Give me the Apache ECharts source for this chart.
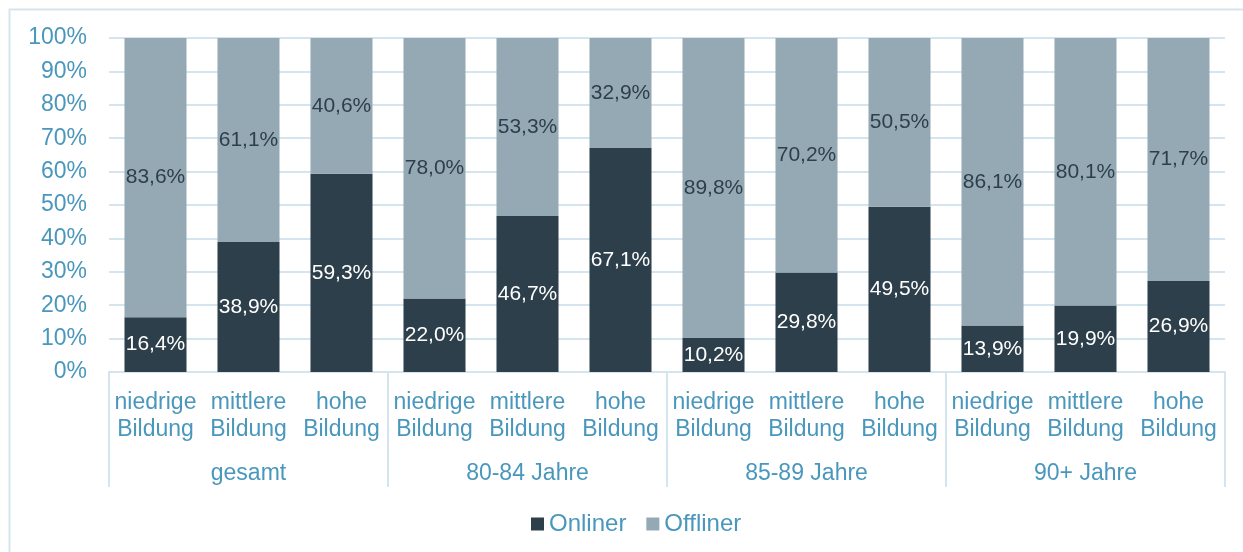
<!DOCTYPE html>
<html><head><meta charset="utf-8">
<script src="https://cdn.jsdelivr.net/npm/echarts@6/dist/echarts.min.js"></script>
<style>html,body{margin:0;padding:0;background:#fff}#c{width:1243px;height:552px}</style>
</head><body><div id="c"></div>
<script>
const categories = ['niedrige\nBildung','mittlere\nBildung','hohe\nBildung','niedrige\nBildung','mittlere\nBildung','hohe\nBildung','niedrige\nBildung','mittlere\nBildung','hohe\nBildung','niedrige\nBildung','mittlere\nBildung','hohe\nBildung'];
const groups = ['gesamt','80-84 Jahre','85-89 Jahre','90+ Jahre'];
const onliner = [16.4,38.9,59.3,22.0,46.7,67.1,10.2,29.8,49.5,13.9,19.9,26.9];
const offliner = [83.6,61.1,40.6,78.0,53.3,32.9,89.8,70.2,50.5,86.1,80.1,71.7];
const seriesNames = ['Onliner','Offliner'];

// 100% stacked: each column is scaled to its total (as the original chart does); labels show the raw values
const totals = onliner.map((v, i) => v + offliner[i]);
const share = arr => arr.map((v, i) => ({value: v / totals[i] * 100, raw: v}));

const blue = '#4A97BD';
const lineC = '#D5E5F0';
const font = 'Liberation Sans, Arial, sans-serif';
const fmt = p => p.data.raw.toFixed(1).replace('.', ',') + '%';
const chart = echarts.init(document.getElementById('c'), null, {renderer:'canvas'});
chart.setOption({
  animation:false,
  textStyle:{fontFamily:font},
  graphic:[{type:'rect',shape:{x:9.5,y:9.5,width:1260,height:560},style:{fill:'none',stroke:lineC,lineWidth:2},silent:true}],
  grid:{left:109,right:18,top:38,bottom:180,containLabel:false},
  legend:{data:seriesNames,top:507,left:526,itemWidth:13,itemHeight:13,itemGap:20,icon:'rect',
    textStyle:{color:blue,fontSize:24,fontFamily:font}},
  xAxis:[
    {type:'category',data:categories,position:'bottom',
     axisLine:{show:true,lineStyle:{color:lineC,width:2}},axisTick:{show:false},
     axisLabel:{color:blue,fontSize:23,fontFamily:font,margin:17,lineHeight:27,interval:0}},
    {type:'category',data:groups,position:'bottom',
     axisLine:{show:false},axisTick:{show:true,length:115,lineStyle:{color:lineC,width:2}},
     axisLabel:{color:blue,fontSize:23,fontFamily:font,margin:90,interval:0}}
  ],
  yAxis:{type:'value',min:0,max:100,interval:10,
    axisLine:{show:false},axisTick:{show:false},
    axisLabel:{color:blue,fontSize:23,fontFamily:font,margin:22,formatter:'{value}%'},
    splitLine:{lineStyle:{color:lineC,width:2}}},
  series:[
    {name:seriesNames[0],type:'bar',stack:'s',data:share(onliner),barWidth:'66.7%',
     itemStyle:{color:'#2D3F4B'},
     label:{show:true,position:'inside',color:'#ffffff',fontSize:21,fontFamily:font,formatter:fmt}},
    {name:seriesNames[1],type:'bar',stack:'s',data:share(offliner),barWidth:'66.7%',
     itemStyle:{color:'#95A9B4'},
     label:{show:true,position:'inside',color:'#2D3F4B',fontSize:21,fontFamily:font,formatter:fmt}}
  ]
});
</script></body></html>
